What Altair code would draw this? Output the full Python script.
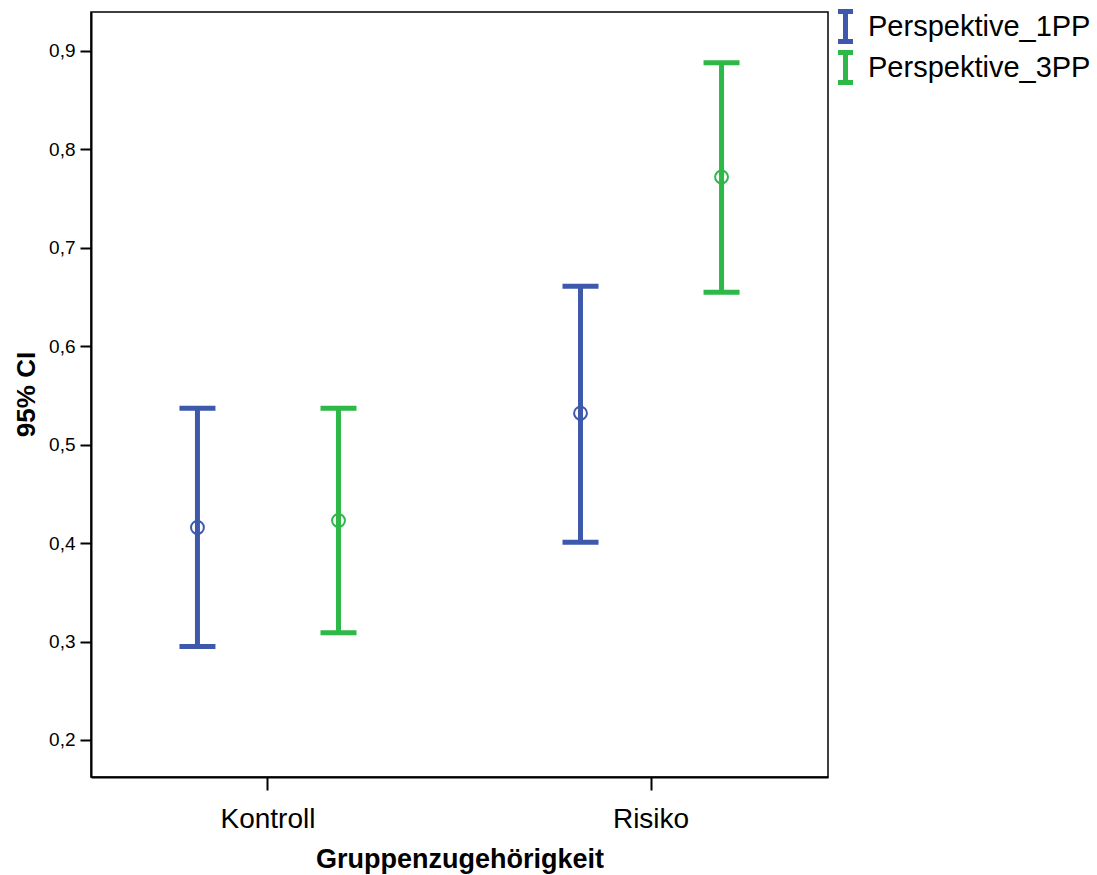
import altair as alt
import pandas as pd

# Group means with 95% confidence limits per perspective condition
groups = ["Kontroll", "Kontroll", "Risiko", "Risiko"]
perspectives = ["Perspektive_1PP", "Perspektive_3PP", "Perspektive_1PP", "Perspektive_3PP"]
means = [0.416, 0.423, 0.532, 0.772]
lower = [0.295, 0.309, 0.401, 0.655]
upper = [0.537, 0.537, 0.661, 0.888]

y_ticks = [0.2, 0.3, 0.4, 0.5, 0.6, 0.7, 0.8, 0.9]
series_colors = ["#3E58AC", "#2EB848"]
font = "Liberation Sans"

df = pd.DataFrame({
    "Gruppe": groups,
    "Perspektive": perspectives,
    "Mittel": means,
    "Unten": lower,
    "Oben": upper,
})

x_enc = alt.X(
    "Gruppe:N",
    title="Gruppenzugehörigkeit",
    scale=alt.Scale(paddingInner=0.5, paddingOuter=0.212),
    axis=alt.Axis(
        labelAngle=0,
        labelFontSize=28,
        labelFont=font,
        labelColor="black",
        labelBaseline="alphabetic",
        labelPadding=37,
        tickSize=13,
        tickWidth=2,
        tickColor="black",
        domainColor="black",
        domainWidth=2,
        titleFontSize=27,
        titleFont=font,
        titleFontWeight="bold",
        titleColor="black",
        titleBaseline="alphabetic",
        titleY=90,
    ),
)
xoff_enc = alt.XOffset(
    "Perspektive:N",
    scale=alt.Scale(paddingInner=0.8, paddingOuter=0.079),
)
y_scale = alt.Scale(domain=[0.1624, 0.9396], nice=False, zero=False)
y_axis = alt.Axis(
    values=y_ticks,
    labelExpr="replace(format(datum.value, '.1f'), '.', ',')",
    labelFontSize=19,
    labelFont=font,
    labelColor="black",
    labelPadding=5,
    tickSize=11,
    tickWidth=2,
    tickColor="black",
    domainColor="black",
    domainWidth=2,
    grid=False,
    title="95% CI",
    titleFontSize=26,
    titleFont=font,
    titleFontWeight="bold",
    titleColor="black",
    titleAngle=270,
    titleBaseline="alphabetic",
    titleAlign="center",
    titleX=-57,
    titleY=382,
)
color_enc = alt.Color(
    "Perspektive:N",
    title=None,
    scale=alt.Scale(domain=["Perspektive_1PP", "Perspektive_3PP"], range=series_colors),
    legend=alt.Legend(
        orient="right",
        offset=3,
        padding=0,
        symbolType="M-1,-2H1M0,-2V2M-1,2H1",
        symbolSize=225,
        symbolStrokeWidth=5,
        symbolFillColor="transparent",
        symbolOpacity=1,
        labelFontSize=29,
        labelFont=font,
        labelColor="black",
        labelOffset=8,
        labelLimit=400,
        rowPadding=-10,
    ),
)

base = alt.Chart(df)

whisker = base.mark_rule(strokeWidth=5, opacity=1).encode(
    x=x_enc,
    xOffset=xoff_enc,
    y=alt.Y("Unten:Q", scale=y_scale, axis=y_axis),
    y2="Oben:Q",
    color=color_enc,
)
cap_low = base.mark_tick(size=36, thickness=5, opacity=1).encode(
    x=x_enc, xOffset=xoff_enc, y=alt.Y("Unten:Q", scale=y_scale), color=color_enc
)
cap_high = base.mark_tick(size=36, thickness=5, opacity=1).encode(
    x=x_enc, xOffset=xoff_enc, y=alt.Y("Oben:Q", scale=y_scale), color=color_enc
)
mean_pt = base.mark_point(
    shape="circle", filled=False, size=165, strokeWidth=2, opacity=1
).encode(
    x=x_enc, xOffset=xoff_enc, y=alt.Y("Mittel:Q", scale=y_scale), color=color_enc
)

chart = (
    alt.layer(whisker, cap_low, cap_high, mean_pt)
    .properties(
        width=737,
        height=765,
        autosize=alt.AutoSizeParams(type="none"),
        padding={"left": 91, "top": 12, "right": 269, "bottom": 98},
        background="white",
    )
    .configure_view(stroke="black", strokeWidth=1.5)
)

chart.save("out.html", embed_options={"renderer": "svg", "actions": False})
